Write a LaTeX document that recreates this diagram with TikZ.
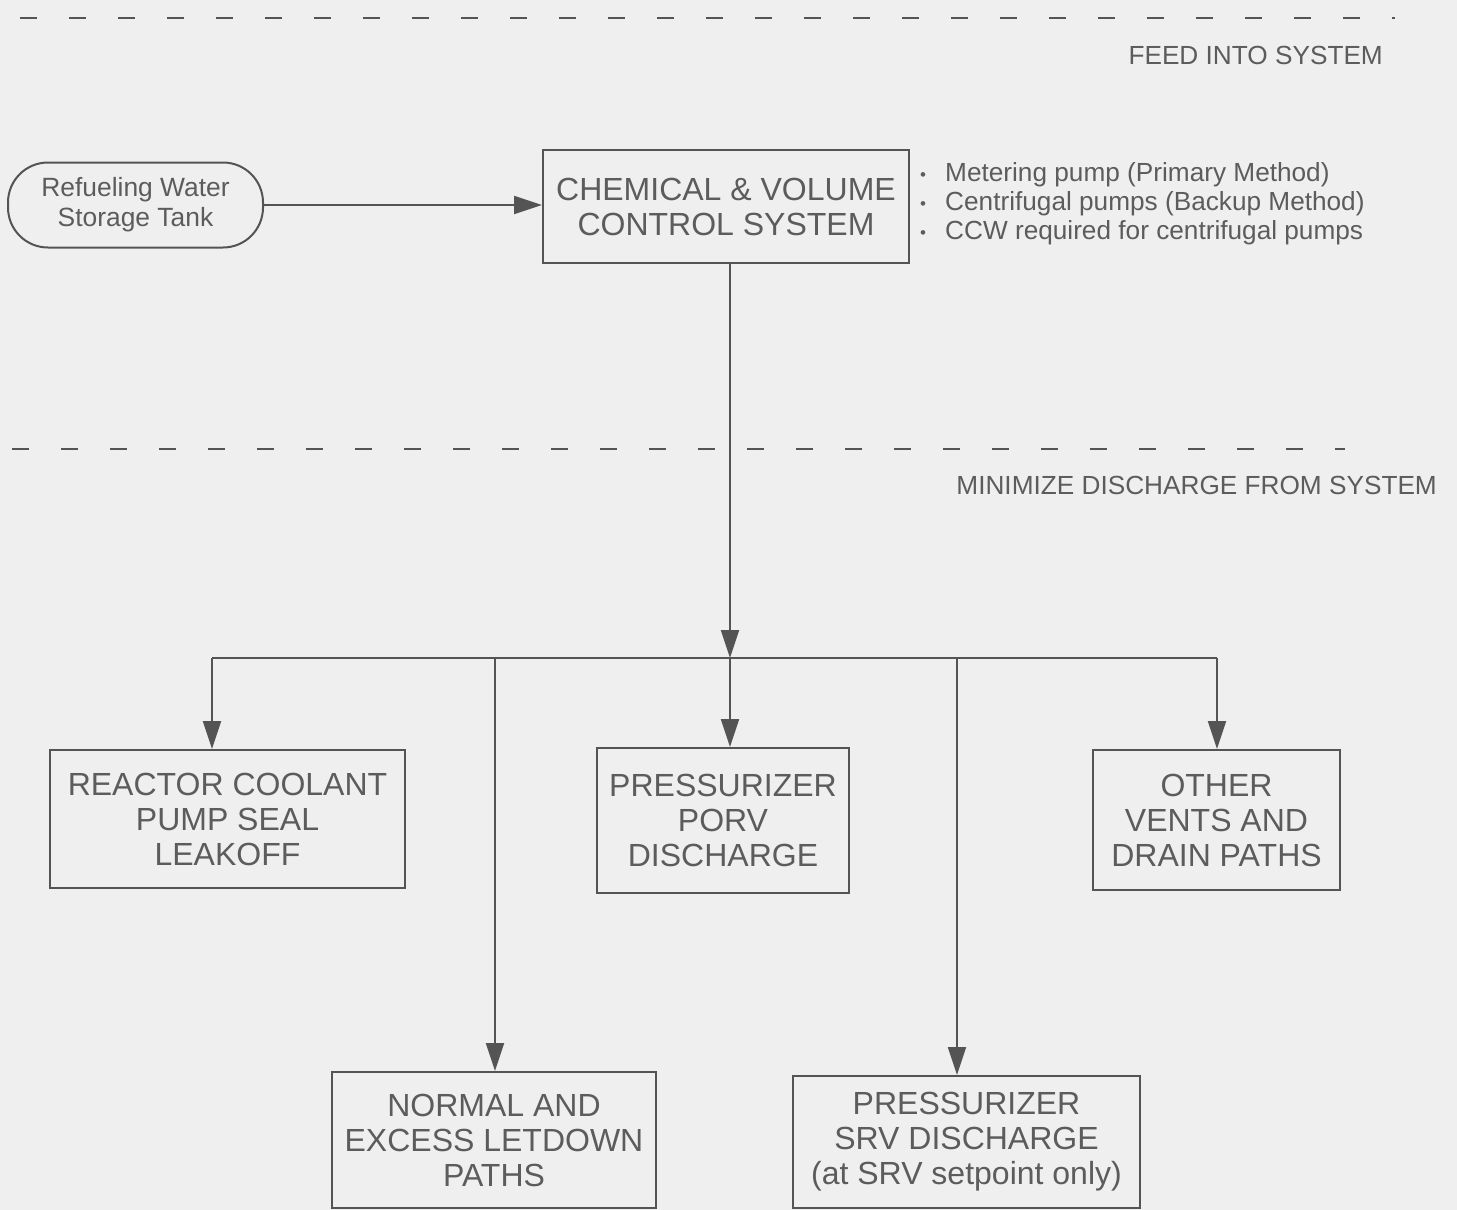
\documentclass[tikz,border=0pt]{standalone}
\usepackage{fontspec}
\setmainfont{Liberation Sans}
\usetikzlibrary{arrows.meta}
\definecolor{paper}{HTML}{EFEFEF}
\definecolor{ink}{HTML}{545454}
\definecolor{txt}{HTML}{5C5C5C}
% small bullet used in the list of pumping methods
\newcommand\blt{\makebox[25pt][l]{\fontsize{17}{17}\selectfont\raisebox{1pt}{•}}}
\begin{document}
\begin{tikzpicture}[x=1pt,y=-1pt,
  box/.style={draw=ink, line width=2pt, text=txt, align=center, inner sep=0pt,
              font=\fontsize{32}{35}\selectfont},
  flow/.style={draw=ink, line width=2pt, -{Triangle[length=28pt,width=18pt]}},
  wire/.style={draw=ink, line width=2pt},
  sep/.style={draw=ink, line width=2.5pt, dash pattern=on 17pt off 32pt},
  lbl/.style={text=txt, inner sep=0pt, font=\fontsize{26.2}{29}\selectfont}]

  \fill[paper] (0,0) rectangle (1457,1210);
  \useasboundingbox (0,0) rectangle (1457,1210);

  % section separators and headings
  \draw[sep] (20,18) -- (1395,18);
  \draw[sep] (12,449) -- (1345,449);
  \node[lbl, anchor=east] (feed) at (1383,55) {FEED INTO SYSTEM};
  \node[lbl, anchor=east] (minimize) at (1437,485) {MINIMIZE DISCHARGE FROM SYSTEM};

  % feed path
  \node[box, rounded corners=40pt, minimum width=255pt, minimum height=85pt,
        font=\fontsize{26.4}{30}\selectfont] (rwst) at (135.5,205)
        {Refueling Water\\Storage Tank};
  \node[box, minimum width=366pt, minimum height=113pt] (cvcs) at (726,206.5)
        {CHEMICAL \& VOLUME\\CONTROL SYSTEM};
  \node[lbl, anchor=west, align=left] (notes) at (920,204)
        {\blt Metering pump (Primary Method)\\
         \blt Centrifugal pumps (Backup Method)\\
         \blt CCW required for centrifugal pumps};

  % discharge paths
  \node[box, minimum width=355pt, minimum height=138pt] (rcp) at (227.5,819)
        {REACTOR COOLANT\\PUMP SEAL\\LEAKOFF};
  \node[box, minimum width=252pt, minimum height=145pt] (porv) at (723,820.5)
        {PRESSURIZER\\PORV\\DISCHARGE};
  \node[box, minimum width=247pt, minimum height=140pt] (other) at (1216.5,820)
        {OTHER\\VENTS AND\\DRAIN PATHS};
  \node[box, minimum width=324pt, minimum height=136pt] (letdown) at (494,1140)
        {NORMAL AND\\EXCESS LETDOWN\\PATHS};
  \node[box, minimum width=347pt, minimum height=132pt] (srv) at (966.5,1142)
        {PRESSURIZER\\SRV DISCHARGE\\(at SRV setpoint only)};

  % branch points on the distribution header
  \coordinate (hub) at (730,658);
  \coordinate (tapA) at (212,658);
  \coordinate (tapB) at (495,658);
  \coordinate (tapD) at (957,658);
  \coordinate (tapE) at (1217,658);

  % connectors
  \draw[flow] (rwst.east) -- (rwst.east -| cvcs.west);
  \draw[flow] (cvcs.south -| hub) -- (hub);
  \draw[wire] (tapA) -- (tapE);
  \draw[flow] (tapA) -- (tapA |- rcp.north);
  \draw[flow] (tapB) -- (tapB |- letdown.north);
  \draw[flow] (hub) -- (hub |- porv.north);
  \draw[flow] (tapD) -- (tapD |- srv.north);
  \draw[flow] (tapE) -- (tapE |- other.north);
\end{tikzpicture}
\end{document}
